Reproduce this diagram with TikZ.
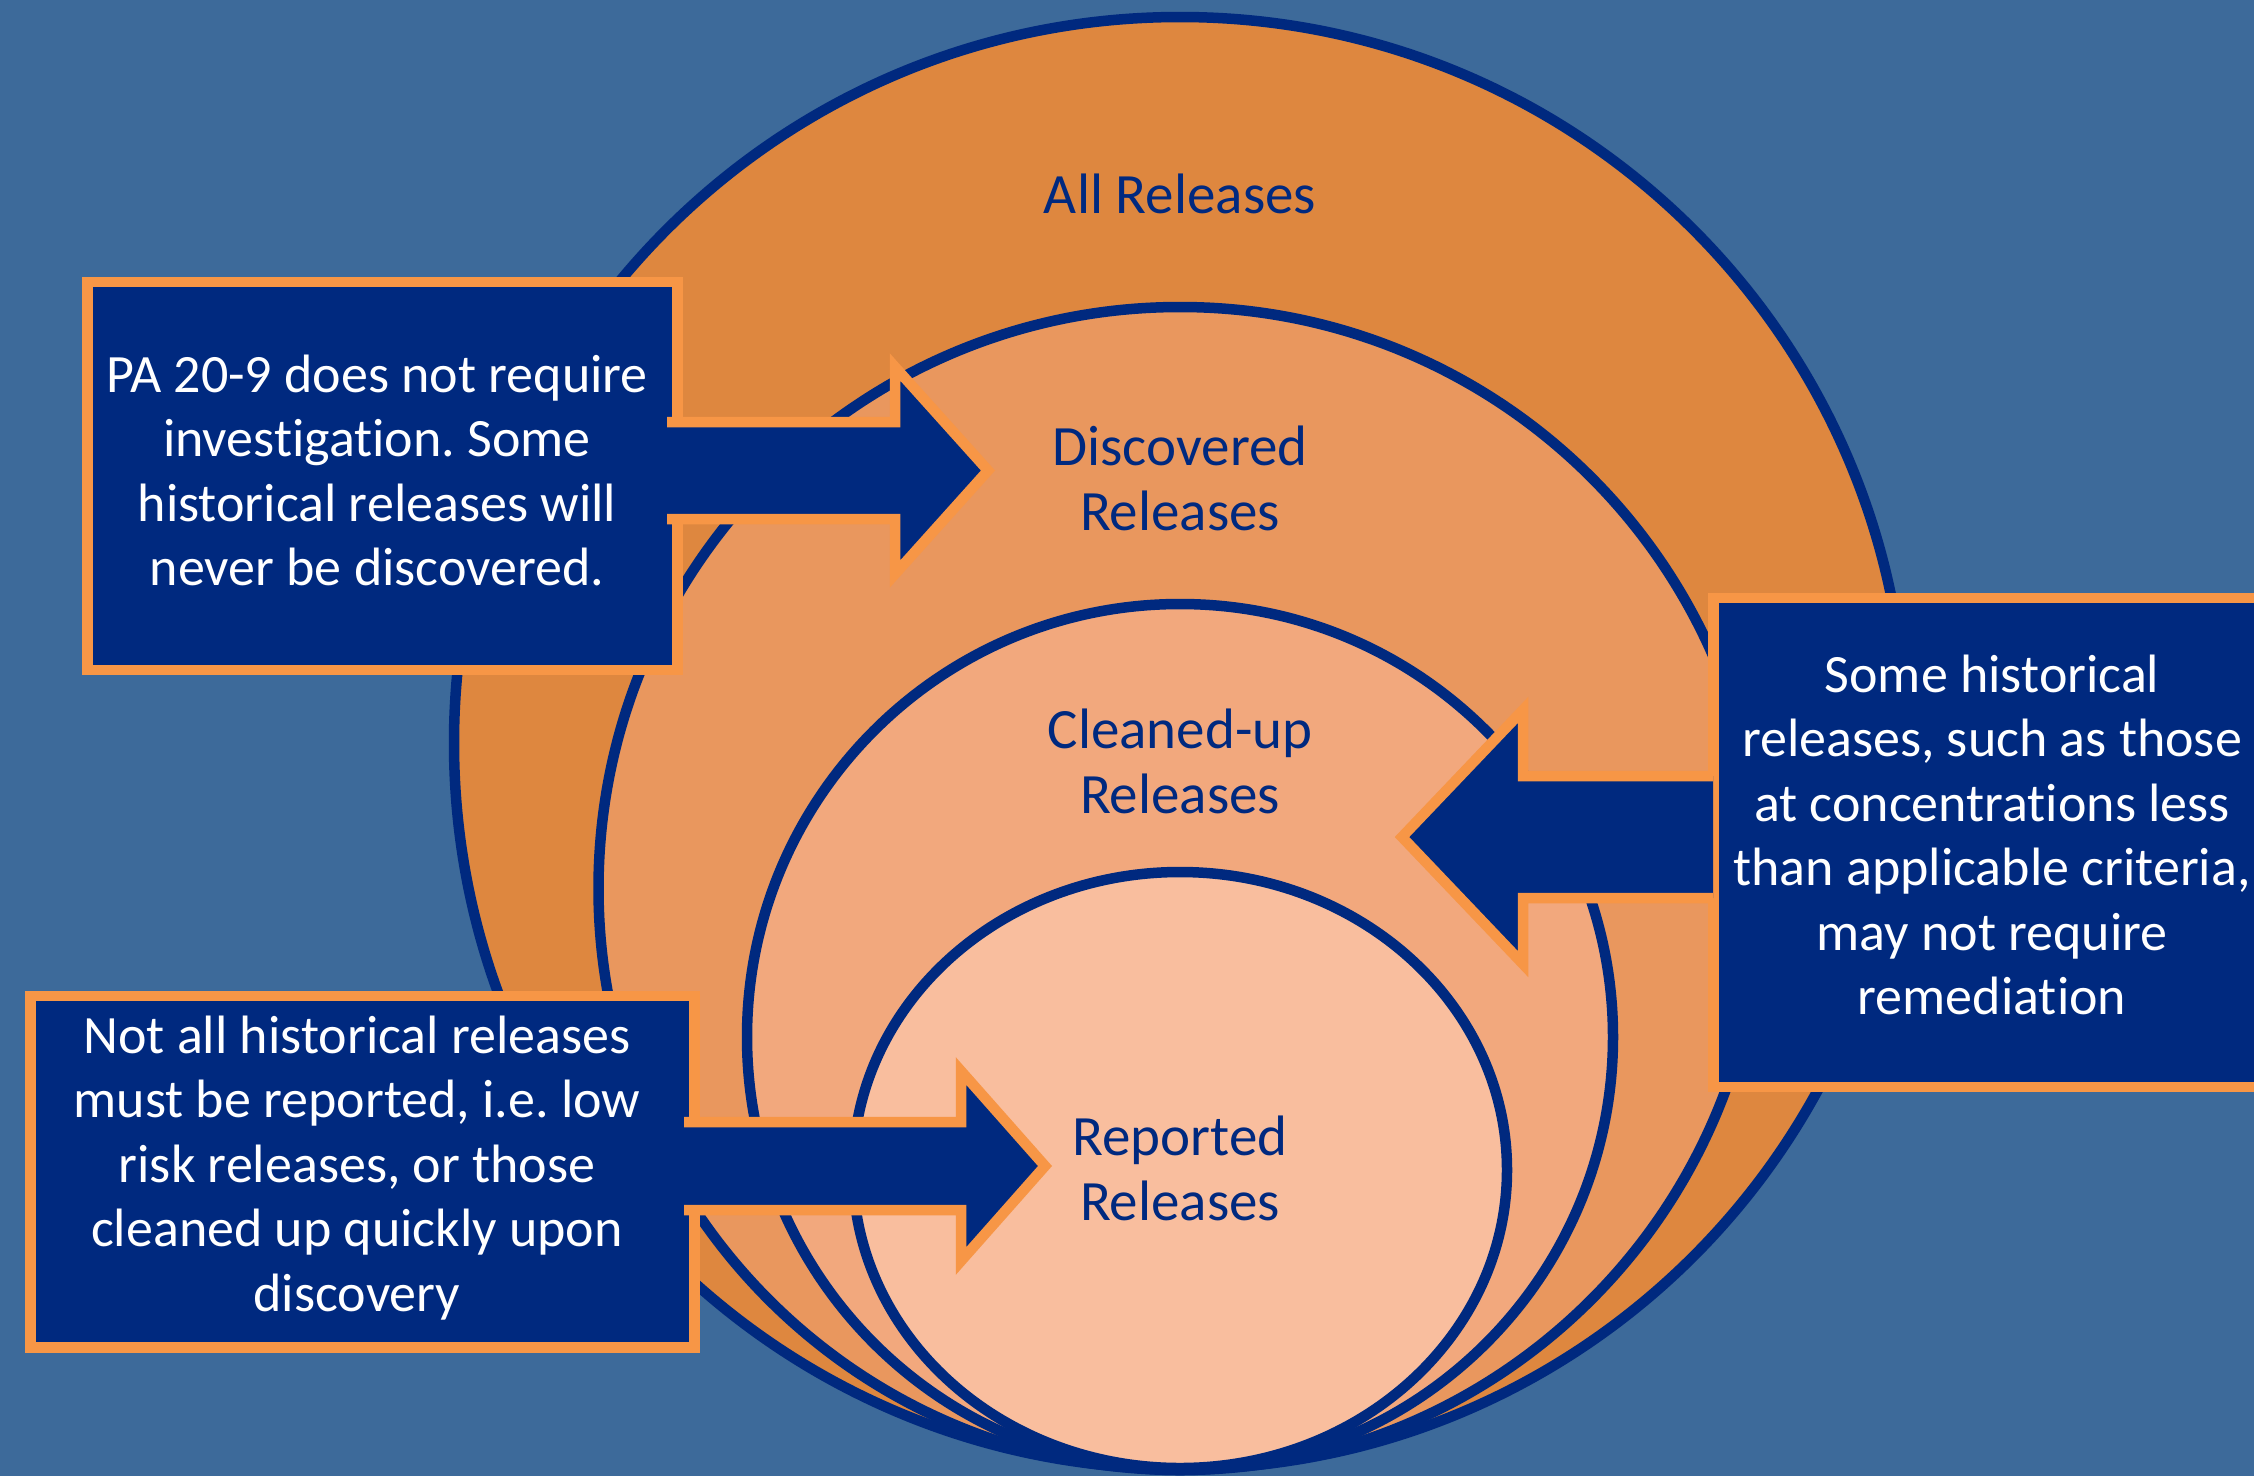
\documentclass[tikz,border=0pt]{standalone}
\usepackage{fontspec}
\setmainfont{Carlito}[Ligatures=NoCommon]
\frenchspacing
\definecolor{bg}{RGB}{61,106,154}
\definecolor{navy}{RGB}{0,41,127}
\definecolor{allc}{RGB}{222,135,63}
\definecolor{discc}{RGB}{233,151,94}
\definecolor{cleanc}{RGB}{242,168,125}
\definecolor{repc}{RGB}{249,190,158}
\definecolor{bord}{RGB}{247,150,70}
\tikzset{
  ring/.style={draw=navy, line width=10.5pt},
  infobox/.style={rectangle, fill=navy, draw=bord, line width=10.5pt, inner sep=0pt, anchor=north west},
  boxtext/.style={text=white, font=\fontsize{54}{64.5}\selectfont, align=center, inner sep=0pt, anchor=north},
  circtext/.style={text=navy, font=\fontsize{57}{65}\selectfont, align=center, inner sep=0pt, anchor=north},
  arrowfill/.style={fill=navy},
  arrowline/.style={draw=bord, line width=10.5pt, miter limit=10}
}
\begin{document}
\begin{tikzpicture}[x=1pt,y=-1pt]
\useasboundingbox (0,0) rectangle (2254,1476);
\clip (0,0) rectangle (2254,1476);
\fill[bg] (0,0) rectangle (2254,1476);
% nested circles
\draw[ring, fill=allc] (1180,743) circle[radius=726pt];
\draw[ring, fill=discc] (1180,888.5) circle[radius=581.5pt];
\draw[ring, fill=cleanc] (1180,1037) circle[radius=433pt];
\draw[ring, fill=repc] (1180,1170) ellipse[x radius=327pt, y radius=298pt];
% circle labels
\node[circtext] (lall) at (1180,167.5) {\strut All Releases};
\node[circtext] (ldisc) at (1180,419.5) {\strut Discovered\\Releases};
\node[circtext] (lclean) at (1180,702.5) {\strut Cleaned-up\\Releases};
\node[circtext] (lrep) at (1180,1109.5) {\strut Reported\\Releases};
% boxes
\node[infobox, minimum width=590pt, minimum height=388pt] (box1) at (82,276.5) {};
\node[infobox, minimum width=570pt, minimum height=489pt] (box2) at (1708,592.5) {};
\node[infobox, minimum width=664pt, minimum height=351.5pt] (box3) at (25,990.5) {};
% arrows
\fill[arrowfill] (667,422) -- (895,422) -- (895,367) -- (988,470.5) -- (895,574) -- (895,519) -- (667,519) -- cycle;
\draw[arrowline] (667,422) -- (895,422) -- (895,367) -- (988,470.5) -- (895,574) -- (895,519) -- (667,519);
\fill[arrowfill] (1713,776) -- (1523,776) -- (1523,710) -- (1402,837) -- (1523,964) -- (1523,898) -- (1713,898) -- cycle;
\draw[arrowline] (1713,776) -- (1523,776) -- (1523,710) -- (1402,837) -- (1523,964) -- (1523,898) -- (1713,898);
\fill[arrowfill] (684,1122) -- (961,1122) -- (961,1071) -- (1045,1166) -- (961,1261) -- (961,1210) -- (684,1210) -- cycle;
\draw[arrowline] (684,1122) -- (961,1122) -- (961,1071) -- (1045,1166) -- (961,1261) -- (961,1210) -- (684,1210);
% box texts
\node[boxtext] (t1) at (377,346.85) {\strut PA 20-9 does not require\\investigation. Some\\historical releases will\\never be discovered.};
\node[boxtext] (t2) at (1992,646.85) {\strut Some historical\\releases, such as those\\at concentrations less\\than applicable criteria,\\may not require\\remediation};
\node[boxtext] (t3) at (357,1007.85) {\strut Not all historical releases\\must be reported, i.e. low\\risk releases, or those\\cleaned up quickly upon\\discovery};
\end{tikzpicture}
\end{document}
